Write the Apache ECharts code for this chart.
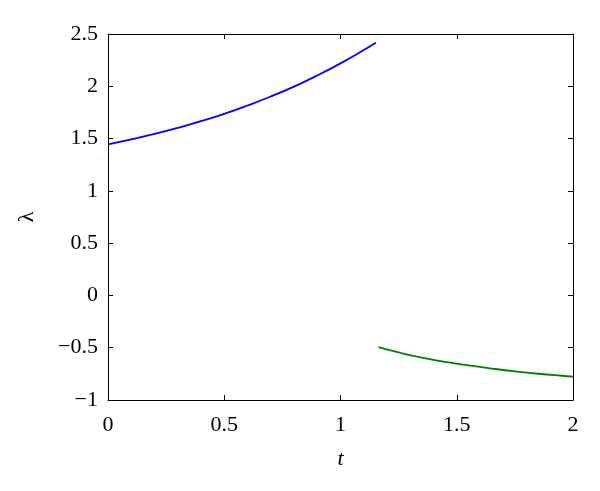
<!DOCTYPE html>
<html>
<head>
<meta charset="utf-8">
<script src="https://cdn.jsdelivr.net/npm/echarts@6/dist/echarts.min.js"></script>
<style>html,body{margin:0;padding:0;background:#fff;}#c{width:600px;height:491px;}</style>
</head>
<body>
<div id="c"></div>
<script>
// Blue branch (t, lambda)
const blueT = [0, 0.1, 0.2, 0.3, 0.4, 0.5, 0.6, 0.7, 0.8, 0.9, 1.0, 1.1, 1.152];
const blueL = [1.445, 1.492, 1.544, 1.602, 1.666, 1.737, 1.816, 1.902, 1.997, 2.103, 2.219, 2.347, 2.417];
// Green branch (t, lambda)
const greenT = [1.163, 1.25, 1.35, 1.45, 1.55, 1.65, 1.75, 1.85, 1.95, 2.0];
const greenL = [-0.495, -0.545, -0.595, -0.636, -0.669, -0.699, -0.726, -0.749, -0.768, -0.776];
const xTicks = [0, 0.5, 1, 1.5, 2];
const yTicks = [-1, -0.5, 0, 0.5, 1, 1.5, 2, 2.5];

const FONT = 'Liberation Serif';
const fmt = v => String(v).replace('-', '\u2212');
const axisLine = {show: true, onZero: false, lineStyle: {color: '#000', width: 1}};
const tick = {show: true, inside: true, length: 5, lineStyle: {color: '#000', width: 1}};

const chart = echarts.init(document.getElementById('c'), null, {renderer: 'canvas'});
chart.setOption({
  animation: false,
  backgroundColor: '#fff',
  grid: {left: 108, right: 27, top: 34, bottom: 91},
  xAxis: [
    {type: 'value', min: xTicks[0], max: xTicks[xTicks.length - 1], interval: 0.5, position: 'bottom',
     axisLine, axisTick: tick, splitLine: {show: false},
     axisLabel: {color: '#000', fontFamily: FONT, fontSize: 22, margin: 14, formatter: fmt},
     name: 't', nameLocation: 'middle', nameGap: 48,
     nameTextStyle: {color: '#000', fontFamily: FONT, fontSize: 22, fontStyle: 'italic'}},
    {type: 'value', min: xTicks[0], max: xTicks[xTicks.length - 1], interval: 0.5, position: 'top',
     axisLine, axisTick: tick, axisLabel: {show: false}, splitLine: {show: false}}
  ],
  yAxis: [
    {type: 'value', min: yTicks[0], max: yTicks[yTicks.length - 1], interval: 0.5, position: 'left',
     axisLine, axisTick: tick, splitLine: {show: false},
     axisLabel: {color: '#000', fontFamily: FONT, fontSize: 22, margin: 10, formatter: fmt},
     name: '\u03bb', nameLocation: 'middle', nameGap: 70, nameRotate: 90,
     nameTextStyle: {color: '#000', fontFamily: FONT, fontSize: 22}},
    {type: 'value', min: yTicks[0], max: yTicks[yTicks.length - 1], interval: 0.5, position: 'right',
     axisLine, axisTick: tick, axisLabel: {show: false}, splitLine: {show: false}}
  ],
  series: [
    {type: 'line', data: blueT.map((t, i) => [t, blueL[i]]), smooth: true, showSymbol: false,
     lineStyle: {color: '#0000ff', width: 1.8}, xAxisIndex: 0, yAxisIndex: 0},
    {type: 'line', data: greenT.map((t, i) => [t, greenL[i]]), smooth: true, showSymbol: false,
     lineStyle: {color: '#008000', width: 1.8}, xAxisIndex: 0, yAxisIndex: 0}
  ]
});
</script>
</body>
</html>
